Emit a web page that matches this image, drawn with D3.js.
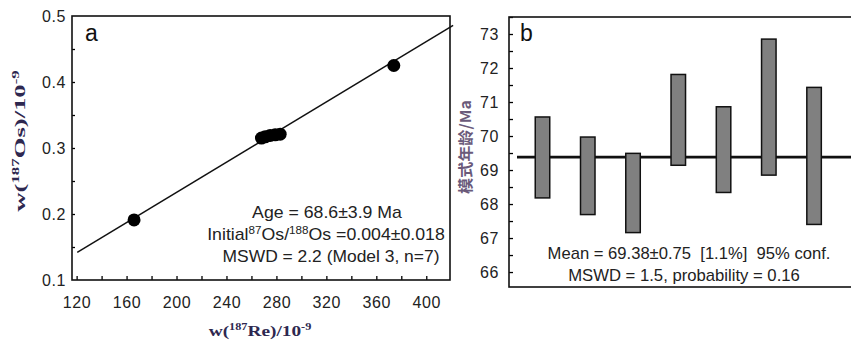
<!DOCTYPE html>
<html>
<head>
<meta charset="utf-8">
<script src="https://cdn.jsdelivr.net/npm/d3@7"></script>
<style>
  body { margin: 0; background: #fff; }
  svg { display: block; font-family: "Liberation Sans", Arial, sans-serif; }
</style>
</head>
<body>
<div id="chart"></div>
<script>
// panel a: Re-Os isochron
const reValues = [166, 268, 271, 275, 279, 283, 374]
const osValues = [0.191, 0.315, 0.317, 0.319, 0.320, 0.321, 0.425]
const isoIntercept = 0.004
const isoSlope = 0.001143
const aXTicks = [120, 160, 200, 240, 280, 320, 360, 400]
const aYTicks = [0.1, 0.2, 0.3, 0.4, 0.5]
const aNotes = ["Age = 68.6±3.9 Ma", "Initial", "MSWD = 2.2 (Model 3, n=7)"]

// panel b: weighted mean of model ages
const sampleIndex = [1, 2, 3, 4, 5, 6, 7]
const ageTop = [70.56, 69.97, 69.49, 71.81, 70.86, 72.85, 71.43]
const ageBottom = [68.18, 67.69, 67.16, 69.14, 68.34, 68.85, 67.40]
const meanAge = 69.38
const bYTicks = [66, 67, 68, 69, 70, 71, 72, 73]
const bNotes = ["Mean = 69.38±0.75\u00a0\u00a0[1.1%]\u00a0\u00a095% conf.", "MSWD = 1.5, probability = 0.16"]

const width = 851, height = 344
const tickFont = 16
const svg = d3.select("#chart").append("svg")
  .attr("width", width)
  .attr("height", height)

// the scanned figure is wider than the fonts: scale a text horizontally to its measured length
function stretchedText(parent, x, y, len, rotate, build) {
  const t = parent.append("text").attr("text-anchor", "middle")
  build(t)
  const w = t.node().getBBox().width
  t.attr("transform", `translate(${x},${y})${rotate ? " rotate(-90)" : ""} scale(${len / w},1)`)
  return t
}

const styleTicks = g => g.selectAll("text")
  .attr("font-size", tickFont)
  .attr("letter-spacing", 0.6)
  .attr("fill", "#222")
  .attr("font-family", null)

// ---------- panel a ----------
const aBox = {left: 72, top: 16, right: 450, bottom: 280}
const xA = d3.scaleLinear().domain([116.3, 419]).range([aBox.left, aBox.right])
const yA = d3.scaleLinear().domain([0.1, 0.5]).range([aBox.bottom, aBox.top])

const gA = svg.append("g")

gA.append("defs").append("clipPath").attr("id", "clip-a")
  .append("rect")
    .attr("x", aBox.left).attr("y", aBox.top - 4)
    .attr("width", aBox.right - aBox.left + 4).attr("height", aBox.bottom - aBox.top + 4)

// minor + major ticks, inward
gA.append("g")
  .attr("transform", `translate(0,${aBox.bottom})`)
  .call(d3.axisTop(xA).tickValues(d3.range(120, 420, 20)).tickSize(4).tickFormat(""))
  .call(g => g.select(".domain").remove())
  .call(g => g.selectAll("line").attr("stroke-width", 1.3))
gA.append("g")
  .attr("transform", `translate(0,${aBox.bottom})`)
  .call(d3.axisBottom(xA).tickValues(aXTicks).tickSize(0).tickPadding(17))
  .call(g => g.select(".domain").remove())
  .call(styleTicks)

gA.append("g")
  .attr("transform", `translate(${aBox.left},0)`)
  .call(d3.axisRight(yA).tickValues(d3.range(0.15, 0.5, 0.05)).tickSize(3).tickFormat(""))
  .call(g => g.select(".domain").remove())
  .call(g => g.selectAll("line").attr("stroke-width", 1.3))
gA.append("g")
  .attr("transform", `translate(${aBox.left},0)`)
  .call(d3.axisLeft(yA).tickValues(aYTicks).tickSize(0).tickPadding(6).tickFormat(d3.format(".1f")))
  .call(g => g.select(".domain").remove())
  .call(styleTicks)

gA.append("rect")
  .attr("x", aBox.left).attr("y", aBox.top)
  .attr("width", aBox.right - aBox.left).attr("height", aBox.bottom - aBox.top)
  .attr("fill", "none").attr("stroke", "#111").attr("stroke-width", 1.6)

// isochron line
const lineX = [120.5, 421.5]
gA.append("line")
  .attr("clip-path", "url(#clip-a)")
  .attr("x1", xA(lineX[0])).attr("y1", yA(isoIntercept + isoSlope * lineX[0]))
  .attr("x2", xA(lineX[1])).attr("y2", yA(isoIntercept + isoSlope * lineX[1]))
  .attr("stroke", "#111").attr("stroke-width", 1.5)

gA.append("g").selectAll("circle")
  .data(reValues)
  .join("circle")
    .attr("cx", d => xA(d))
    .attr("cy", (d, i) => yA(osValues[i]))
    .attr("r", 6.5)
    .attr("fill", "#000")

gA.append("text")
  .attr("x", 85).attr("y", 41)
  .attr("font-size", 23).attr("fill", "#111")
  .text("a")

const noteA = gA.append("g").attr("font-size", 16).attr("fill", "#222")
stretchedText(noteA, 327, 218, 150, false, t => t.text(aNotes[0]))
stretchedText(noteA, 326, 240, 238, false, t => {
  t.append("tspan").text(aNotes[1])
  t.append("tspan").attr("font-size", 10.5).attr("dy", -6).text("87")
  t.append("tspan").attr("dy", 6).text("Os/")
  t.append("tspan").attr("font-size", 10.5).attr("dy", -6).text("188")
  t.append("tspan").attr("dy", 6).text("Os =0.004±0.018")
})
stretchedText(noteA, 331, 262, 217, false, t => t.text(aNotes[2]))

// axis titles (Times, bold, dark navy)
const titleFont = "'Liberation Serif', 'Times New Roman', serif"
const titles = gA.append("g")
  .attr("font-family", titleFont).attr("font-weight", "bold")
  .attr("font-size", 15).attr("fill", "#2e2850")
const titleParts = (t, name) => {
  t.append("tspan").text("w(")
  t.append("tspan").attr("font-size", 9.5).attr("dy", -6).text("187")
  t.append("tspan").attr("dy", 6).text(name + ")/10")
  t.append("tspan").attr("font-size", 9.5).attr("dy", -6).text("-9")
}
stretchedText(titles, 25, 141, 142, true, t => titleParts(t, "Os"))
stretchedText(titles, 260, 336, 103, false, t => titleParts(t, "Re"))

// ---------- panel b ----------
const bBox = {left: 509, top: 17, right: 853, bottom: 287}
const xB = d3.scaleLinear().domain([0.26, 7.86]).range([bBox.left, bBox.right])
const yB = d3.scaleLinear().domain([65.56, 73.5]).range([bBox.bottom, bBox.top])

const gB = svg.append("g")

gB.append("g")
  .attr("transform", `translate(${bBox.left},0)`)
  .call(d3.axisRight(yB).tickValues(d3.range(66, 73.6, 0.5)).tickSize(4).tickFormat(""))
  .call(g => g.select(".domain").remove())
  .call(g => g.selectAll("line").attr("stroke-width", 1.3))
gB.append("g")
  .attr("transform", `translate(${bBox.left},0)`)
  .call(d3.axisLeft(yB).tickValues(bYTicks).tickSize(0).tickPadding(10))
  .call(g => g.select(".domain").remove())
  .call(styleTicks)

gB.append("rect")
  .attr("x", bBox.left).attr("y", bBox.top)
  .attr("width", bBox.right - bBox.left).attr("height", bBox.bottom - bBox.top)
  .attr("fill", "none").attr("stroke", "#111").attr("stroke-width", 1.6)

gB.append("line")
  .attr("x1", bBox.left + 8).attr("x2", bBox.right)
  .attr("y1", yB(meanAge)).attr("y2", yB(meanAge))
  .attr("stroke", "#111").attr("stroke-width", 2.6)

const barW = 14.5
gB.append("g").selectAll("rect")
  .data(sampleIndex)
  .join("rect")
    .attr("x", d => xB(d) - barW / 2)
    .attr("y", (d, i) => yB(ageTop[i]))
    .attr("width", barW)
    .attr("height", (d, i) => yB(ageBottom[i]) - yB(ageTop[i]))
    .attr("fill", "#808080")
    .attr("stroke", "#111")
    .attr("stroke-width", 1.5)

gB.append("text")
  .attr("x", 520).attr("y", 41)
  .attr("font-size", 23).attr("fill", "#111")
  .text("b")

const noteB = gB.append("g").attr("font-size", 16).attr("fill", "#222")
stretchedText(noteB, 689, 259, 283, false, t => t.text(bNotes[0]))
stretchedText(noteB, 684, 281, 232, false, t => t.text(bNotes[1]))

const yTitleB = gB.append("g")
  .attr("font-family", "'Noto Sans CJK SC', sans-serif")
  .attr("font-size", 15).attr("font-weight", "bold").attr("fill", "#6a5a7a")
stretchedText(yTitleB, 471, 147, 94, true, t => t.text("模式年龄/Ma"))
</script>
</body>
</html>
